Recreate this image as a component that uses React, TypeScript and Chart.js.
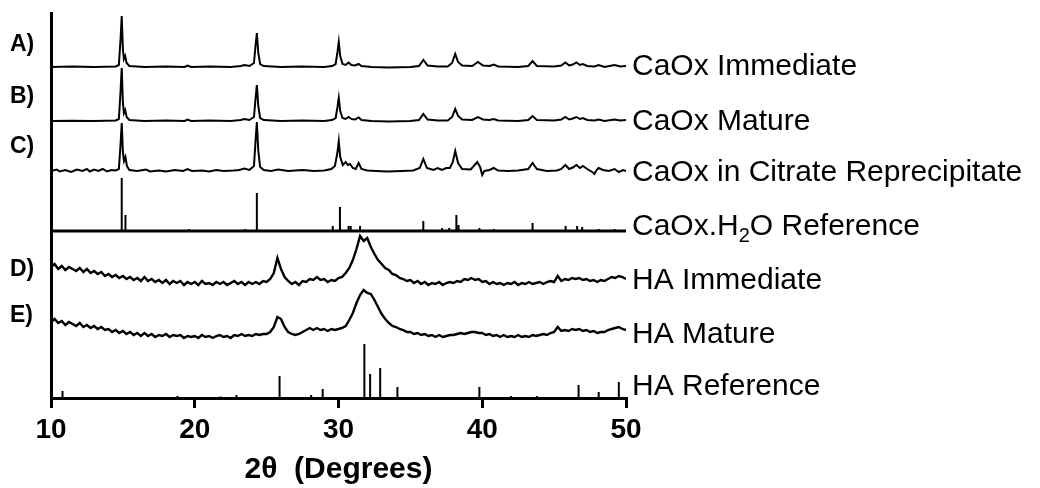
import React, { useEffect, useRef } from "react";
import { Chart, registerables } from "chart.js";

Chart.register(...registerables);

const FONT = "'Liberation Sans', Arial, Helvetica, sans-serif";

// axis
const X_TICKS = [10, 20, 30, 40, 50];
const AXIS_TITLE = "2θ  (Degrees)";

// names & panel letters
const TRACE_NAMES = [
  "CaOx Immediate",
  "CaOx Mature",
  "CaOx in Citrate Reprecipitate",
  "CaOx.H₂O Reference",
  "HA Immediate",
  "HA Mature",
  "HA Reference",
];
const PANEL_LETTERS = ["A)", "B)", "C)", "D)", "E)"];

// vertical stacking offsets of each pattern (arbitrary intensity units)
const OFFSETS = [331, 277, 227, 167, 115, 63, 0];

// CaOx measured patterns: [2θ, intensity above own baseline]
const CAOX_IMMEDIATE = [
  [10, 0], [11.5, 0.5], [13, 0], [14.5, 0.5], [14.72, 2], [14.84, 28], [14.92, 51], [15.0, 18], [15.07, 8], [15.16, 11],
  [15.26, 4], [15.45, 1], [16.5, 0], [18, 0.5], [19.3, 0], [19.5, 1.5], [19.75, 0], [21, 0.5], [22.5, 0], [23.2, 1],
  [23.45, 2], [23.8, 1], [24.12, 4], [24.22, 20], [24.32, 34], [24.42, 14], [24.55, 3], [24.8, 1], [26, 0], [27.5, 0.5],
  [29, 0], [29.55, 1], [29.8, 3], [29.93, 15], [30.02, 25], [30.12, 11], [30.28, 3], [30.5, 2], [30.7, 4.5], [30.9, 2],
  [31.15, 1.5], [31.4, 3], [31.6, 1], [32.3, 0], [33.5, -0.5], [35, 0], [35.6, 1], [35.9, 7], [36.2, 1.5], [36.9, 0.5],
  [37.6, 0.5], [37.9, 4], [38.12, 13], [38.32, 5], [38.6, 1.5], [39.3, 1], [39.7, 5], [40.05, 1.5], [40.5, 1], [40.8, 2.5],
  [41.1, 0.5], [42.5, 0], [43.2, 1], [43.5, 6], [43.8, 1], [45, 0.5], [45.5, 1.5], [45.78, 4.5], [46.05, 1.5], [46.3, 2.5],
  [46.55, 4.5], [46.8, 2], [47.0, 3], [47.3, 1], [47.8, 0.5], [48.1, 2], [48.5, 0], [49.2, 2], [49.6, 0.5], [50, 1],
];
const CAOX_MATURE = [
  [10, 0], [11.5, 0.3], [13, 0], [14.5, 0.5], [14.72, 2], [14.84, 30], [14.92, 53], [15.0, 19], [15.07, 8], [15.16, 11],
  [15.26, 4], [15.45, 1], [16.5, 0], [18, 0.5], [19.3, 0], [19.5, 1.5], [19.75, 0], [21, 0.5], [22.5, 0], [23.2, 1],
  [23.45, 2], [23.8, 1], [24.12, 4], [24.22, 21], [24.32, 36], [24.42, 15], [24.55, 3], [24.8, 1], [26, 0], [27.5, 0.5],
  [29, 0], [29.55, 1], [29.8, 3], [29.93, 14], [30.02, 23], [30.12, 10], [30.28, 3], [30.5, 2], [30.7, 4], [30.9, 2],
  [31.15, 1.5], [31.4, 3.5], [31.6, 1], [32.3, 0], [33.5, -0.5], [35, 0], [35.6, 1], [35.9, 7], [36.2, 1.5], [36.9, 0.5],
  [37.6, 0.5], [37.9, 4], [38.12, 12], [38.32, 5], [38.6, 1.5], [39.3, 1], [39.7, 4], [40.05, 1.5], [40.5, 1], [40.8, 2],
  [41.1, 0.5], [42.5, 0], [43.2, 1], [43.5, 5], [43.8, 1], [45, 0.5], [45.5, 1.5], [45.78, 4], [46.05, 1.5], [46.3, 2.5],
  [46.55, 4], [46.8, 2], [47.0, 3], [47.3, 1], [47.8, 0.5], [48.1, 1.5], [48.5, 0], [49.2, 1.5], [49.6, 0.5], [50, 1],
];
const CAOX_CITRATE = [
  [10, 0], [10.4, 1.5], [10.6, -0.5], [11, 1], [11.4, -1], [11.8, 1.5], [12.2, 0], [12.5, 2], [12.7, -0.5], [13, 1.5],
  [13.3, 0], [13.6, 2], [13.9, -0.5], [14.2, 1], [14.5, 0.5], [14.72, 2], [14.84, 27], [14.92, 48], [15.0, 19], [15.08, 10],
  [15.18, 14], [15.28, 5], [15.45, 1], [16, 0], [16.6, 1.5], [16.9, -0.5], [17.5, 0.5], [18, -0.5], [18.6, 1], [19.2, 0],
  [19.5, 2], [19.8, 0], [20.5, 0.5], [21, -0.5], [21.5, 1], [22, 0], [22.7, 0.5], [23.1, 1], [23.45, 2.5], [23.8, 1],
  [24.12, 5], [24.22, 28], [24.32, 49], [24.42, 20], [24.55, 4], [24.8, 1], [25.3, 0], [25.8, 1.5], [26.5, 0], [27.5, 1],
  [28.3, 0], [29, 0.5], [29.5, 2], [29.75, 5], [29.92, 18], [30.02, 30], [30.12, 14], [30.3, 6], [30.5, 9], [30.65, 6],
  [30.8, 7], [31.0, 3], [31.2, 2], [31.4, 8], [31.6, 2], [32, 0.5], [32.6, 0], [33.4, -0.5], [34.4, 0], [35.2, 0.5],
  [35.65, 3], [35.9, 12], [36.15, 3], [36.6, 1], [36.9, 3], [37.2, 1], [37.5, 3], [37.75, 3], [37.95, 9], [38.12, 20],
  [38.32, 8], [38.6, 2], [39.2, 1.5], [39.65, 9], [39.85, 4], [40.0, -4], [40.15, 0], [40.5, 1], [40.8, 3], [41.1, 0.5],
  [41.8, 0], [42.5, 0.5], [43.2, 2], [43.5, 8], [43.8, 2], [44.5, 0], [45.2, 0.5], [45.5, 2], [45.78, 6], [46.05, 2],
  [46.3, 3.5], [46.55, 6], [46.8, 3], [47.0, 5], [47.3, 2], [47.65, -1], [47.8, -3], [47.95, 1], [48.1, 3], [48.4, 1],
  [48.8, 0], [49.2, 2], [49.5, -1], [49.8, 1], [50, 0],
];

// CaOx monohydrate reference stick pattern
const CAOX_REF_ANGLES = [14.92, 15.18, 19.6, 23.5, 24.32, 29.6, 30.1, 30.7, 30.85, 31.5, 35.9, 37.2, 37.7, 38.2, 38.35, 39.8, 40.8, 43.5, 45.8, 46.6, 46.95, 48.1, 49.2];
const CAOX_REF_INTENS = [53, 16, 2, 2, 38, 5, 24, 5, 5, 5, 10, 3, 3, 16, 6, 3, 2, 8, 5, 5, 4, 2, 2];

// HA measured patterns, sampled every 0.25° from 10° to 50°
const HA_IMMEDIATE = [
  16, 19, 14, 17, 13, 16, 14, 12, 15, 11, 14, 10, 12, 9, 11, 7, 9, 6, 8, 5,
  7, 4, 6, 3, 5, 2, 6, 2, 4, 1, 3, 0, 3, -1, 2, 0, 2, -2, 1, -1,
  1, -2, 2, -1, 0, -2, 1, -1, 1, -2, 0, 2, -1, 1, -2, 1, -1, 1, -1, 2,
  1, 4, 10, 25, 14, 6, 2, -1, 1, -2, 2, 1, 4, 3, 6, 3, 4, 1, 3, 2,
  5, 6, 10, 15, 23, 34, 47, 42, 45, 36, 29, 23, 19, 15, 13, 9, 8, 5, 4, 2,
  3, 0, 2, -1, 1, -2, 0, -1, 1, -2, 0, 1, 0, 2, 1, 4, 3, 5, 3, 4,
  1, 2, -1, 1, -1, 0, -2, 0, -1, 1, -2, 0, -1, 1, -1, 0, 1, -1, 1, 2,
  1, 7, 2, 4, 3, 5, 4, 5, 3, 4, 2, 3, 1, 3, 2, 4, 6, 5, 7, 6,
  4,
];
const HA_MATURE = [
  13, 16, 12, 14, 10, 13, 11, 9, 12, 8, 10, 7, 9, 6, 8, 5, 6, 3, 5, 2,
  4, 1, 3, 0, 2, -1, 2, -1, 1, -2, 0, -1, 1, -2, 0, -1, 0, -3, -1, -2,
  -1, -3, 0, -2, -1, -3, -1, 0, -2, -1, -3, 0, -1, 1, -1, 0, -1, 1, 0, 1,
  1, 3, 8, 18, 16, 8, 3, 1, 0, 1, 3, 5, 7, 5, 7, 5, 6, 4, 6, 5,
  6, 7, 9, 15, 22, 32, 40, 45, 42, 41, 35, 28, 21, 16, 12, 9, 8, 6, 5, 3,
  3, 1, 2, 0, 1, -1, 0, -2, 0, -2, -1, 0, 0, 1, 2, 1, 2, 3, 3, 2,
  2, 0, 1, -1, 0, -2, 0, -2, -1, -2, 0, -2, -1, -2, 0, -1, 0, 1, 0, 2,
  3, 8, 4, 5, 4, 6, 5, 6, 4, 5, 3, 4, 2, 3, 3, 5, 6, 7, 8, 6,
  5,
];
const HA_START = 10;
const HA_STEP = 0.25;

// HA reference stick pattern
const HA_REF_ANGLES = [10.8, 18.8, 21.8, 22.9, 25.9, 28.1, 28.9, 31.8, 32.2, 32.9, 34.1, 39.8, 42.0, 43.8, 46.7, 48.1, 49.5];
const HA_REF_INTENS = [7, 2, 1.5, 3, 22, 3, 9, 54, 24, 30, 11, 11, 2, 2, 13, 6, 16];

// layout of the annotation texts (in y-axis units)
const RIGHT_LABEL_Y = [331, 276, 225, 171, 117, 63, 11];
const LETTER_Y = [353, 301, 251, 128, 82];

export default function App() {
  const ref = useRef<HTMLCanvasElement>(null);

  useEffect(() => {
    document.body.style.margin = "0";
    const canvas = ref.current;
    if (!canvas) return;

    const toPts = (arr: number[][], off: number) => arr.map(([x, y]) => ({ x, y: y + off }));
    const haPts = (vals: number[], off: number) => vals.map((v, i) => ({ x: HA_START + i * HA_STEP, y: v + off }));
    const sticks = (angles: number[], ints: number[], off: number) => {
      const pts: { x: number; y: number | null }[] = [];
      angles.forEach((a, i) => {
        pts.push({ x: a, y: off }, { x: a, y: off + ints[i] }, { x: a, y: null });
      });
      return pts;
    };

    const line = (data: any[], width = 2) => ({
      data,
      borderColor: "#000",
      borderWidth: width,
      pointRadius: 0,
      tension: 0,
      spanGaps: false,
      fill: false,
    });

    const labelPlugin = {
      id: "sideLabels",
      afterDatasetsDraw(chart: any) {
        const { ctx, scales } = chart;
        const y = scales.y;
        ctx.save();
        ctx.fillStyle = "#000";
        ctx.textBaseline = "middle";
        ctx.textAlign = "left";
        const xRight = chart.chartArea.right + 6;
        TRACE_NAMES.forEach((name, i) => {
          const py = y.getPixelForValue(RIGHT_LABEL_Y[i]);
          const parts = name.split("₂");
          ctx.font = `30px ${FONT}`;
          if (parts.length === 1) {
            ctx.fillText(name, xRight, py);
          } else {
            let x = xRight;
            ctx.fillText(parts[0], x, py);
            x += ctx.measureText(parts[0]).width;
            ctx.font = `20px ${FONT}`;
            ctx.fillText("2", x, py + 9);
            x += ctx.measureText("2").width;
            ctx.font = `30px ${FONT}`;
            ctx.fillText(parts[1], x, py);
          }
        });
        ctx.font = `bold 23px ${FONT}`;
        PANEL_LETTERS.forEach((l, i) => {
          ctx.fillText(l, 10, y.getPixelForValue(LETTER_Y[i]));
        });
        ctx.restore();
      },
    };

    const chart = new Chart(canvas, {
      type: "line",
      data: {
        datasets: [
          line(toPts(CAOX_IMMEDIATE, OFFSETS[0])),
          line(toPts(CAOX_MATURE, OFFSETS[1])),
          line(toPts(CAOX_CITRATE, OFFSETS[2])),
          line([{ x: 10, y: OFFSETS[3] }, { x: 50, y: OFFSETS[3] }], 3),
          line(sticks(CAOX_REF_ANGLES, CAOX_REF_INTENS, OFFSETS[3]), 2),
          line(haPts(HA_IMMEDIATE, OFFSETS[4]), 2.4),
          line(haPts(HA_MATURE, OFFSETS[5]), 2.4),
          line(sticks(HA_REF_ANGLES, HA_REF_INTENS, OFFSETS[6]), 2),
        ] as any,
      },
      options: {
        responsive: false,
        animation: false,
        devicePixelRatio: 1,
        layout: { padding: { left: 0, top: 13, right: 414, bottom: 0 } },
        plugins: { legend: { display: false }, tooltip: { enabled: false } },
        scales: {
          x: {
            type: "linear",
            min: 10,
            max: 50,
            afterBuildTicks: (s: any) => {
              s.ticks = X_TICKS.map((v) => ({ value: v }));
            },
            afterFit: (s: any) => {
              s.height = 90;
            },
            ticks: {
              font: { family: FONT, size: 28, weight: "bold" },
              color: "#000",
              padding: 5,
              maxRotation: 0,
              autoSkip: false,
            },
            grid: {
              drawOnChartArea: false,
              drawTicks: true,
              tickLength: 10,
              tickWidth: 3,
              tickColor: "#000",
              color: "#000",
              lineWidth: 3,
            },
            border: { display: true, width: 3, color: "#000" },
            title: {
              display: true,
              text: AXIS_TITLE,
              font: { family: FONT, size: 30, weight: "bold" },
              color: "#000",
              padding: { top: 0, bottom: 0 },
            },
          },
          y: {
            type: "linear",
            min: 0,
            max: 385,
            afterFit: (s: any) => {
              s.width = 51;
            },
            ticks: { display: false },
            grid: { drawOnChartArea: false, drawTicks: false },
            border: { display: true, width: 3, color: "#000" },
          },
        },
      } as any,
      plugins: [labelPlugin],
    });

    return () => chart.destroy();
  }, []);

  return (
    <div style={{ position: "fixed", left: 0, top: 0, width: 1040, height: 488, background: "#fff" }}>
      <canvas ref={ref} width={1040} height={488} style={{ display: "block" }} />
    </div>
  );
}
